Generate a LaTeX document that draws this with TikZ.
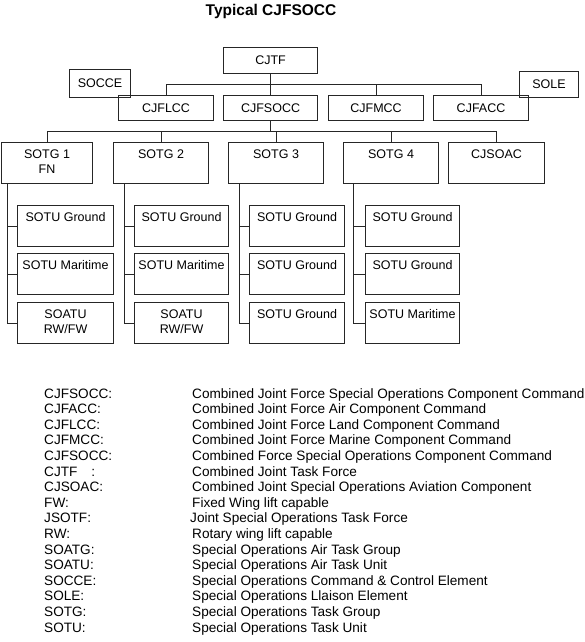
\documentclass[tikz,border=0pt]{standalone}
\usepackage{fontspec}
\setmainfont{Liberation Sans}
\begin{document}
\begin{tikzpicture}[x=1pt,y=-1pt,
  box/.style={draw=black!85, line width=1.1pt, anchor=north west, inner sep=0pt,
              font=\fontsize{12.5}{15}\selectfont},
  lbl/.style={font=\fontsize{12.5}{15}\selectfont, align=center, inner sep=0pt,
              anchor=north},
  conn/.style={draw=black!85, line width=1pt},
  leg/.style={font=\fontsize{13.6}{15}\selectfont, anchor=base west, inner sep=0pt}]
\useasboundingbox (0,0) rectangle (584,642);
\fill[white] (0,0) rectangle (584,642);
\newcommand\mybox[6]{\node[box, minimum width={(#4-#2)*1pt}, minimum height={(#5-#3)*1pt}] (#1) at (#2,#3) {#6};}
\newcommand\toptext[2]{\node[lbl] (#1t) at ([yshift=-7.5pt]#1.north) {#2};}

% title
\node[font=\bfseries\fontsize{15.5}{18}\selectfont, inner sep=0pt] (title) at (271,11) {Typical CJFSOCC};

% top levels
\mybox{cjtf}{223}{47}{317}{73}{CJTF}
\mybox{socce}{69}{69}{130}{97}{SOCCE}
\mybox{sole}{519}{71}{578}{97}{SOLE}
\mybox{cjflcc}{118}{95}{213}{120}{CJFLCC}
\mybox{cjfsocc}{223}{95}{317}{120}{CJFSOCC}
\mybox{cjfmcc}{328}{95}{423}{120}{CJFMCC}
\mybox{cjfacc}{433}{95}{528}{120}{CJFACC}

\draw[conn] (cjtf.south) -- (cjfsocc.north);
\draw[conn] (cjflcc.north) -- ++(0,-11) -| (cjfacc.north);
\draw[conn] (cjfmcc.north) -- ++(0,-11);

% SOTG row
\mybox{g1}{1}{142}{92}{183}{}
\mybox{g2}{113}{142}{208}{183}{}
\mybox{g3}{228}{142}{323}{183}{}
\mybox{g4}{343}{142}{438}{183}{}
\mybox{cjsoac}{448}{142}{544}{183}{}
\toptext{g1}{SOTG 1\\FN}
\toptext{g2}{SOTG 2}
\toptext{g3}{SOTG 3}
\toptext{g4}{SOTG 4}
\toptext{cjsoac}{CJSOAC}

\draw[conn] (cjfsocc.south) -- ++(0,11);
\draw[conn] (g1.north) -- ++(0,-11) -| (cjsoac.north);
\draw[conn] (g2.north) -- ++(0,-11);
\draw[conn] (g3.north) -- ++(0,-11);
\draw[conn] (g4.north) -- ++(0,-11);

% SOTU columns
\mybox{u11}{17}{205}{113}{246}{}
\mybox{u12}{17}{253}{113}{294}{}
\mybox{u13}{17}{302}{113}{343}{}
\mybox{u21}{134}{205}{228}{246}{}
\mybox{u22}{134}{253}{228}{294}{}
\mybox{u23}{134}{302}{228}{343}{}
\mybox{u31}{249}{205}{344}{246}{}
\mybox{u32}{249}{253}{344}{294}{}
\mybox{u33}{249}{302}{344}{343}{}
\mybox{u41}{365}{205}{459}{246}{}
\mybox{u42}{365}{253}{459}{294}{}
\mybox{u43}{365}{302}{459}{343}{}
\toptext{u11}{SOTU Ground}
\toptext{u12}{SOTU Maritime}
\toptext{u13}{SOATU\\RW/FW}
\toptext{u21}{SOTU Ground}
\toptext{u22}{SOTU Maritime}
\toptext{u23}{SOATU\\RW/FW}
\toptext{u31}{SOTU Ground}
\toptext{u32}{SOTU Ground}
\toptext{u33}{SOTU Ground}
\toptext{u41}{SOTU Ground}
\toptext{u42}{SOTU Ground}
\toptext{u43}{SOTU Maritime}

\coordinate (t1) at (7,183);
\coordinate (t2) at (124,183);
\coordinate (t3) at (239,183);
\coordinate (t4) at (353,183);
\foreach \c in {1,2,3,4}{
  \draw[conn] (t\c) |- (u\c3.west);
  \draw[conn] (u\c1.west) -- (u\c1.west -| t\c);
  \draw[conn] (u\c2.west) -- (u\c2.west -| t\c);
}

% legend
\foreach \a/\b/\xx [count=\i from 0] in {
  CJFSOCC:/Combined Joint Force Special Operations Component Command/192,
  CJFACC:/Combined Joint Force Air Component Command/192,
  CJFLCC:/Combined Joint Force Land Component Command/192,
  CJFMCC:/Combined Joint Force Marine Component Command/192,
  CJFSOCC:/Combined Force Special Operations Component Command/192,
  {CJTF\hspace{14pt}:}/Combined Joint Task Force/192,
  CJSOAC:/Combined Joint Special Operations Aviation Component/192,
  FW:/Fixed Wing lift capable/192,
  JSOTF:/Joint Special Operations Task Force/190,
  RW:/Rotary wing lift capable/192,
  SOATG:/Special Operations Air Task Group/192,
  SOATU:/Special Operations Air Task Unit/192,
  SOCCE:/Special Operations Command \& Control Element/192,
  SOLE:/Special Operations Llaison Element/192,
  SOTG:/Special Operations Task Group/192,
  SOTU:/Special Operations Task Unit/192}{
  \node[leg] (la\i) at (44,398+15.6*\i) {\a};
  \node[leg] (lb\i) at (\xx,398+15.6*\i) {\b};
}
\end{tikzpicture}
\end{document}
